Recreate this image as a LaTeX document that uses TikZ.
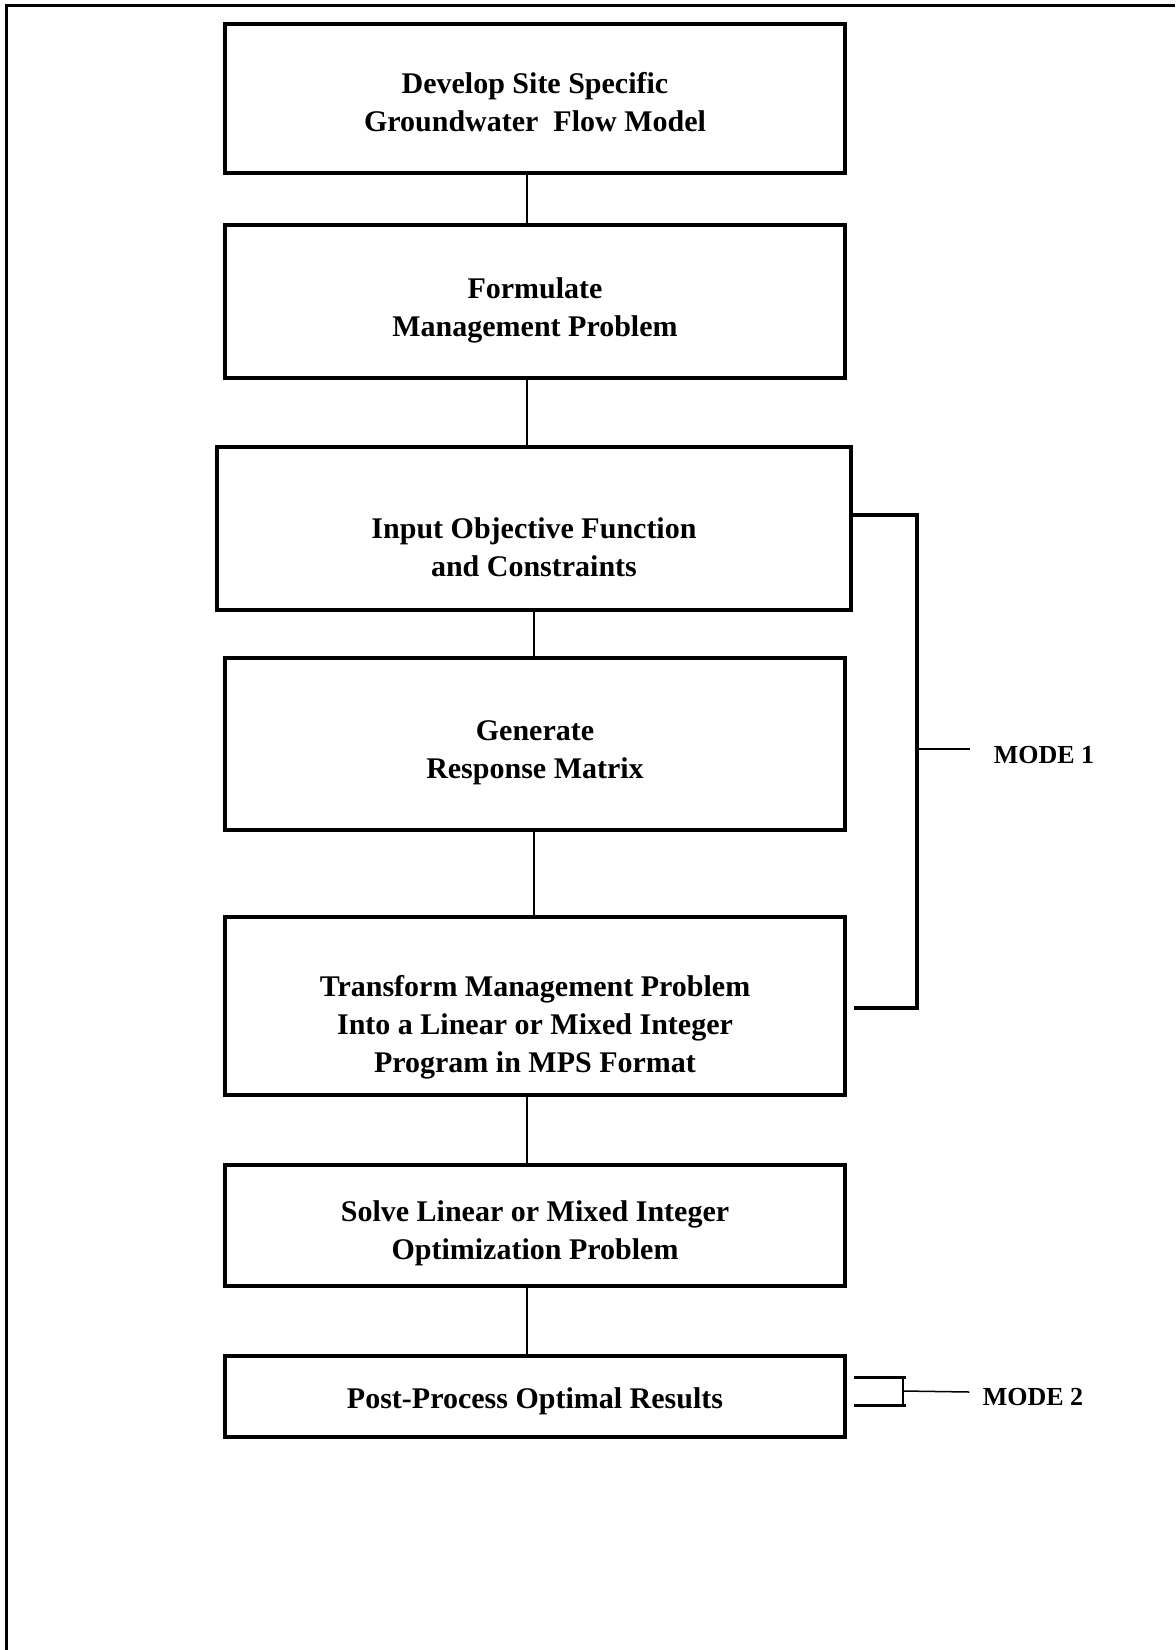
\documentclass[tikz,border=0pt]{standalone}
\usepackage{fontspec}
\setmainfont{Liberation Serif}
\usetikzlibrary{positioning}

% strut that pushes a box's text down
\newcommand{\stepstrut}[1]{\rule{0pt}{#1}}

\begin{document}
\begin{tikzpicture}[x=0.5pt, y=-0.5pt,
			stepbox/.style={draw=black, line width=1.65pt, minimum width=310pt,
				inner sep=0pt, align=center, font=\fontsize{15}{19}\selectfont\bfseries},
			link/.style={draw=black, line width=0.75pt},
			bracket/.style={draw=black, line width=1.7pt},
			modelabel/.style={font=\fontsize{13}{15}\selectfont\bfseries, inner sep=0pt}]
			
			\useasboundingbox (0,0) rectangle (1175,1650);
			
			% page frame
			\draw[line width=1.65pt] (6.5,1650) -- (6.5,5.5) -- (1175,5.5);
			
			% steps
			\node[stepbox, minimum height=74.5pt] (develop) at (535,98.5) {\stepstrut{14.2pt}Develop Site Specific\\Groundwater\ \ Flow Model};
			\node[stepbox, minimum height=76.5pt] (formulate) at (535,301.5) {\stepstrut{18.9pt}Formulate\\Management Problem};
			\node[stepbox, minimum height=81.5pt, minimum width=317pt] (input) at (534,528.5) {\stepstrut{29pt}Input Objective Function\\and Constraints};
			\node[stepbox, minimum height=86pt] (generate) at (535,744) {\stepstrut{18.9pt}Generate\\Response Matrix};
			\node[stepbox, minimum height=89pt] (transform) at (535,1006) {\stepstrut{31.5pt}Transform Management Problem\\Into a Linear or Mixed Integer\\Program in MPS Format};
			\node[stepbox, minimum height=60.5pt] (solve) at (535,1225.5) {\stepstrut{18pt}Solve Linear or Mixed Integer\\Optimization Problem};
			\node[stepbox, minimum height=40.5pt] (post) at (535,1396.5) {\stepstrut{14.8pt}Post-Process Optimal Results};
			
			\draw[link] ([xshift=-4pt]develop.south) -- ([xshift=-4pt]develop.south |- formulate.north);
			\draw[link] ([xshift=-4pt]formulate.south) -- ([xshift=-4pt]formulate.south |- input.north);
			\draw[link] (input.south) -- (input.south |- generate.north);
			\draw[link] (generate.south -| input.south) -- (input.south |- transform.north);
			\draw[link] ([xshift=-4pt]transform.south) -- ([xshift=-4pt]transform.south |- solve.north);
			\draw[link] ([xshift=-4pt]solve.south) -- ([xshift=-4pt]solve.south |- post.north);
			
			% mode 1
			\node[modelabel] (mode1) at (1044,755) {MODE 1};
			\coordinate (m1a) at (917,515);
			\coordinate (m1b) at (917,1008);
			\draw[bracket] (input.east |- m1a) -- (m1a) -- (m1b) -- ([xshift=3.5pt]transform.east |- m1b);
			\draw[link] (m1a |- 0,749) -- ([xshift=-11.5pt, yshift=3pt]mode1.west);
			
			% mode 2
			\node[modelabel] (mode2) at (1033,1397) {MODE 2};
			\coordinate (m2a) at (906,1377);
			\coordinate (m2b) at (906,1405);
			\draw[bracket, line width=1.5pt] ([xshift=3.5pt]post.east |- m2a) -- (m2a);
			\draw[bracket, line width=1.5pt] ([xshift=3.5pt]post.east |- m2b) -- (m2b);
			\draw[link] ([xshift=-1.5pt]m2a) -- ([xshift=-1.5pt]m2b);
			\draw[link] (903,1391) -- ([xshift=-6.5pt, yshift=2.5pt]mode2.west);
		\end{tikzpicture}
\end{document}
